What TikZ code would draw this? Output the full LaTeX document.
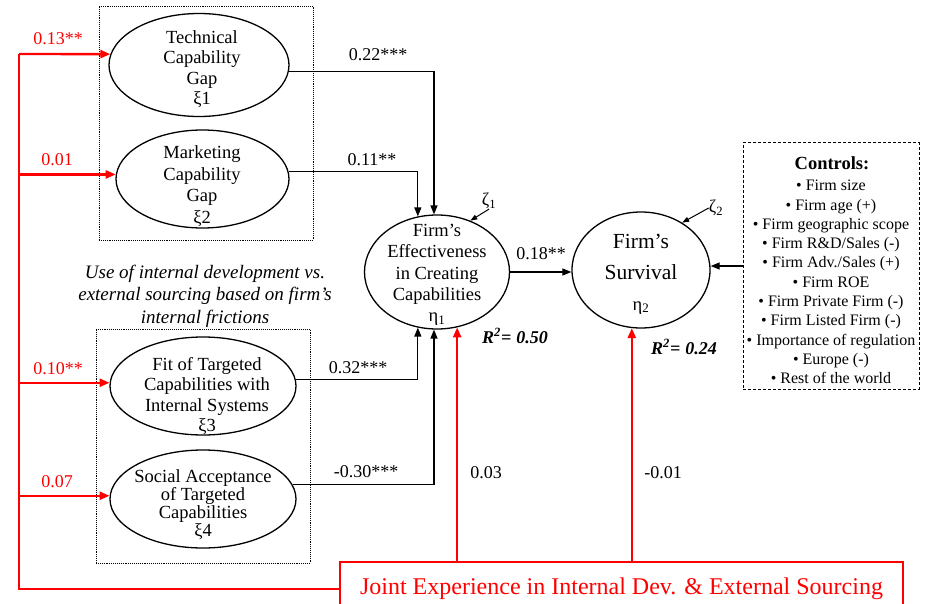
\documentclass[tikz,border=0pt]{standalone}
\usepackage{fontspec}
\setmainfont{Liberation Serif}
\usetikzlibrary{arrows.meta,shapes.geometric}
\definecolor{rd}{RGB}{255,0,0}
\begin{document}
\begin{tikzpicture}[x=1pt,y={(0pt,-1pt)},
  lat/.style={draw, ellipse, line width=1.3pt, inner sep=0pt},
  etxt/.style={align=center, inner sep=0pt, font=\fontsize{18.5}{20.5}\selectfont},
  lbl/.style={inner sep=0pt, font=\fontsize{18}{20}\selectfont},
  rlbl/.style={lbl, text=rd},
  rsq/.style={inner sep=0pt, font=\fontsize{18}{20}\selectfont\bfseries\itshape},
  blk/.style={line width=1.3pt, -{Triangle[length=9pt,width=7pt]}},
  thinarr/.style={line width=1pt, -{Triangle[length=7pt,width=5pt]}},
  redln/.style={draw=rd, line width=2.4pt},
  redarr/.style={redln, -{Triangle[length=10pt,width=8pt]}},
  dotbox/.style={draw, densely dotted, line width=0.9pt, inner sep=0pt},
]
\useasboundingbox (0,0) rectangle (934,604);
\fill[white] (0,0) rectangle (934,604);

% dotted group boxes
\node[dotbox, minimum width=214, minimum height=234] (b1) at (206,123) {};
\node[dotbox, minimum width=214, minimum height=234] (b2) at (203,446) {};

% exogenous latent variables
\node[lat, minimum width=180, minimum height=103] (e1) at (199,65) {};
\node[etxt] (t1) at (202,69) {Technical\\Capability\\Gap\\ξ1};
\node[lat, minimum width=173, minimum height=98] (e2) at (202.5,179) {};
\node[etxt, font=\fontsize{18.5}{21.5}\selectfont] (t2) at (202,186) {Marketing\\Capability\\Gap\\ξ2};
\node[lat, minimum width=186, minimum height=98] (e3) at (203,386) {};
\node[etxt, font=\fontsize{18.5}{20.3}\selectfont] (t3) at (207,396) {Fit of Targeted\\Capabilities with\\Internal Systems\\ξ3};
\node[lat, minimum width=186, minimum height=98] (e4) at (203,499) {};
\node[etxt, font=\fontsize{18.5}{18}\selectfont] (t4) at (203,505) {Social Acceptance\\of Targeted\\Capabilities\\ξ4};

% italic caption
\node[align=center, inner sep=0pt, font=\fontsize{19}{22.5}\selectfont\itshape] (cap) at (205,296)
  {Use of internal development vs.\\external sourcing based on firm’s\\internal frictions};

% endogenous latent variables
\node[lat, minimum width=145, minimum height=114] (f1) at (437,272) {};
\node[etxt, font=\fontsize{18.5}{21.3}\selectfont] (tf1) at (437,275) {Firm’s\\Effectiveness\\in Creating\\Capabilities\\η\textsubscript{1}};
\node[lat, minimum width=138, minimum height=116] (s) at (641,270) {};
\node[etxt, font=\fontsize{21.5}{31}\selectfont] (ts) at (641,274) {Firm’s\\Survival\\{\fontsize{18.5}{20}\selectfont η\textsubscript{2}}};

% disturbances
\node[inner sep=0pt, font=\fontsize{18}{20}\selectfont] (z1) at (489,201) {ζ\textsubscript{1}};
\node[inner sep=0pt, font=\fontsize{18}{20}\selectfont] (z2) at (716,208) {ζ\textsubscript{2}};
\draw[thinarr] (z1.south) -- (f1.57);
\draw[thinarr] (z2.west) -- (s.49);

% controls
\node[draw, dash pattern=on 3pt off 2pt, line width=1pt, minimum width=176, minimum height=246, inner sep=0pt] (ctl) at (831,266) {};
\node[inner sep=0pt, font=\fontsize{18.5}{20}\selectfont\bfseries] (ctitle) at (832,163) {Controls:};
\node[align=center, inner sep=0pt, font=\fontsize{16}{19.3}\selectfont] (citems) at (831,282)
  {• Firm size\\• Firm age (+)\\• Firm geographic scope\\• Firm R\&D/Sales (-)\\• Firm Adv./Sales (+)\\• Firm ROE\\• Firm Private Firm (-)\\• Firm Listed Firm (-)\\• Importance of regulation\\• Europe (-)\\• Rest of the world};

% joint experience box
\node[draw=rd, line width=1.5pt, minimum width=563, minimum height=54, inner sep=0pt, text=rd, font=\fontsize{24}{26}\selectfont] (jb) at (621.5,589) {Joint Experience in Internal Dev. \& External Sourcing};

% black structural paths
\draw[blk] (e1.-4.5) -| (f1.93);
\draw[blk] (e2.5) -| (f1.109.5);
\draw[blk] (e3.4) -| (f1.-109.5);
\draw[blk] (e4.9) -| (f1.-93);
\draw[blk] (f1.east) -- (f1.east -| s.west);
\draw[blk] (ctl.west) -- (ctl.west -| s.east);

% red paths
\coordinate (rc) at (19,54);
\draw[redln] (jb.west) -| (rc);
\draw[redarr] (rc) -- (e1.173);
\draw[redarr] (rc |- e2.177) -- (e2.177);
\draw[redarr] (rc |- e3.178) -- (e3.178);
\draw[redarr] (rc |- e4.178) -- (e4.178);
\draw[redarr] (jb.north -| f1.-70.5) -- (f1.-70.5);
\draw[redarr] (jb.north -| s.-99.2) -- (s.-99.2);

% path labels
\node[rlbl] (l1) at (58,39) {0.13**};
\node[rlbl] (l2) at (57,160) {0.01};
\node[rlbl] (l3) at (58,369) {0.10**};
\node[rlbl] (l4) at (57,482) {0.07};
\node[lbl] (l5) at (378,55) {0.22***};
\node[lbl] (l6) at (372,160) {0.11**};
\node[lbl] (l7) at (358,368) {0.32***};
\node[lbl] (l8) at (366,472) {-0.30***};
\node[lbl] (l9) at (486,473) {0.03};
\node[lbl] (l10) at (663,473) {-0.01};
\node[lbl] (l11) at (541,254) {0.18**};
\node[rsq] (r1) at (515,336) {R\textsuperscript{2}=\hspace{5pt}0.50};
\node[rsq] (r2) at (684,347) {R\textsuperscript{2}=\hspace{5pt}0.24};
\end{tikzpicture}
\end{document}
